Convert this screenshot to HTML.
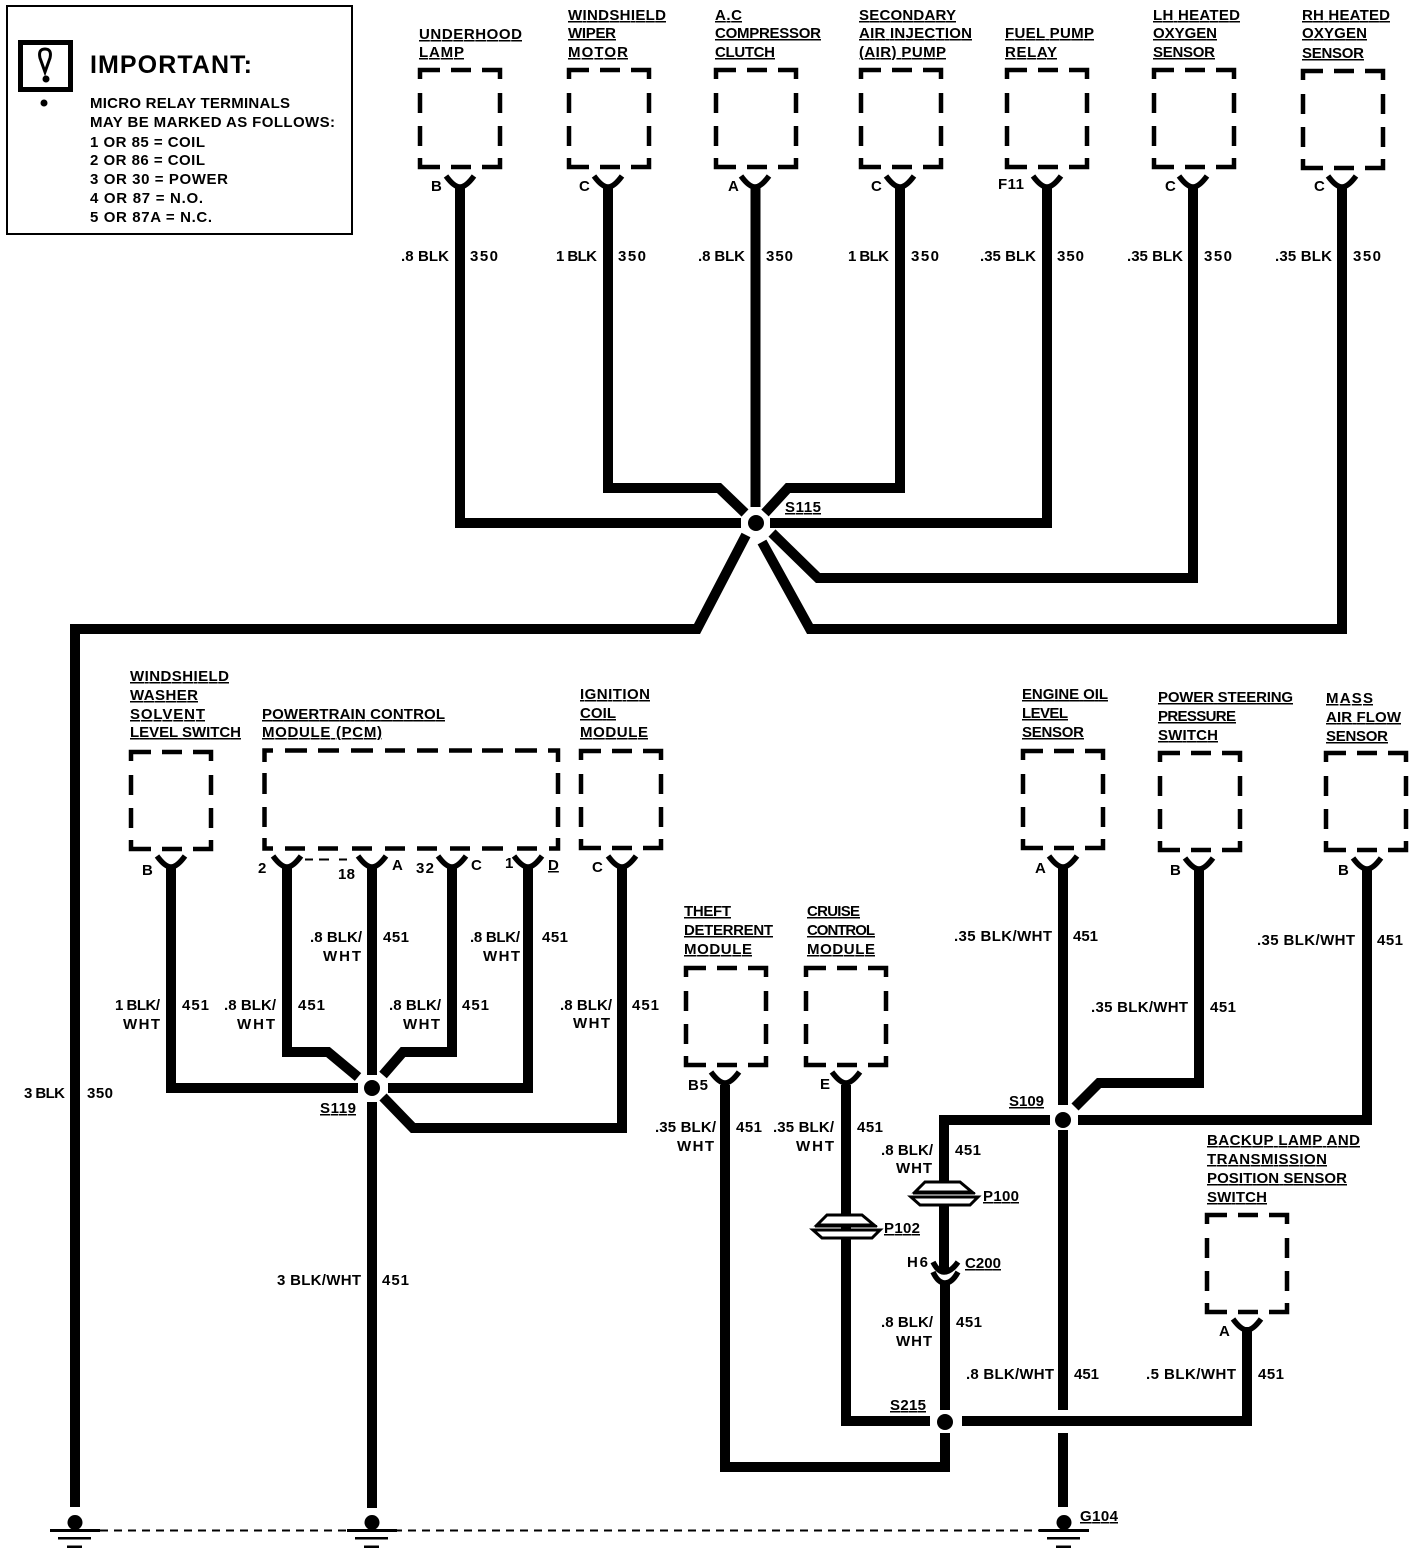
<!DOCTYPE html>
<html><head><meta charset="utf-8"><style>
html,body{margin:0;padding:0;background:#fff}
svg{display:block}
text{font-family:"Liberation Sans",sans-serif;font-weight:700;font-size:15px;fill:#000}
.u{text-decoration:underline}
.w{fill:none;stroke:#000;stroke-width:10;stroke-linejoin:miter}
.c{fill:none;stroke:#000;stroke-width:5.5}
.b{fill:none;stroke:#000;stroke-width:4.5}
</style></head><body>
<svg width="1424" height="1554" viewBox="0 0 1424 1554" xmlns="http://www.w3.org/2000/svg">
<defs>
<g id="box"><path class="b" d="M0 9V0H20M31 0H51M62 0H80V9M0 23V43M80 23V43M0 56V76M80 56V76M0 88V97H20M31 97H51M62 97H80V88"/></g>
<path id="pin" class="c" d="M-14 -7Q-6 4 0 4Q6 4 14 -7"/>
<g id="plug"><path d="M915 1192L925 1182H960L972 1192Z" fill="#fff" stroke="#000" stroke-width="3"/><rect x="913" y="1192" width="62" height="2.500"/><path d="M911 1197H978L970 1205H920Z" fill="#fff" stroke="#000" stroke-width="3"/></g>
<g id="gnd"><circle cx="0" cy="1522.500" r="7.500"/><rect x="-25" y="1529" width="50" height="3"/><rect x="-17" y="1537" width="33" height="2.500"/><rect x="-8" y="1545.500" width="15" height="2.500"/></g>
</defs>

<!-- important panel -->
<rect x="7" y="6" width="345" height="228" fill="none" stroke="#000" stroke-width="2"/>
<rect x="20.500" y="42.500" width="50" height="47" fill="none" stroke="#000" stroke-width="5"/>
<path d="M45 72L40 58Q38 49 45 49Q52 49 50 58Z" fill="none" stroke="#000" stroke-width="3"/>
<circle cx="46" cy="79" r="3.500"/><circle cx="44" cy="103" r="3.500"/>
<text x="90" y="73" style="font-size:25px" textLength="162">IMPORTANT:</text>
<text x="90" y="108" textLength="200">MICRO RELAY TERMINALS</text>
<text x="90" y="127" textLength="245">MAY BE MARKED AS FOLLOWS:</text>
<text x="90" y="147" textLength="115">1 OR 85 = COIL</text>
<text x="90" y="165" textLength="115">2 OR 86 = COIL</text>
<text x="90" y="184" textLength="138">3 OR 30 = POWER</text>
<text x="90" y="203" textLength="113">4 OR 87 = N.O.</text>
<text x="90" y="222" textLength="122">5 OR 87A = N.C.</text>

<!-- boxes -->
<use href="#box" x="420" y="70"/><use href="#box" x="569" y="70"/><use href="#box" x="716" y="70"/><use href="#box" x="861" y="70"/><use href="#box" x="1007" y="70"/><use href="#box" x="1154" y="70"/><use href="#box" x="1303" y="71"/>
<use href="#box" x="131" y="752"/><use href="#box" x="581" y="751"/><use href="#box" x="1023" y="751"/><use href="#box" x="1160" y="753"/><use href="#box" x="1326" y="753"/>
<use href="#box" x="686" y="968"/><use href="#box" x="806" y="968"/><use href="#box" x="1207" y="1215"/>
<path class="b" d="M264.500 762V750.500H273M285 750.500H307M318 750.500H339M351 750.500H373M385 750.500H405M417 750.500H438M449 750.500H472M482 750.500H503M515 750.500H537M548 750.500H558V762M264.500 773V794M558 773V794M264.500 807V827M558 807V827M264.500 838V848.500H273M285 848.500H305M318 848.500H338M352 848.500H372M385 848.500H405M417 848.500H437M450 848.500H470M482 848.500H503M517 848.500H537M549 848.500H558V838"/>
<path d="M305 859.500H313M319 859.500H329M339 859.500H347" stroke="#000" stroke-width="2" fill="none"/>

<!-- pins -->
<use href="#pin" x="460" y="183"/><use href="#pin" x="608" y="183"/><use href="#pin" x="755" y="183"/><use href="#pin" x="900" y="183"/><use href="#pin" x="1047" y="183"/><use href="#pin" x="1193" y="183"/><use href="#pin" x="1342" y="183"/>
<use href="#pin" x="171" y="863"/><use href="#pin" x="287" y="863"/><use href="#pin" x="372" y="863"/><use href="#pin" x="452" y="863"/><use href="#pin" x="528" y="863"/><use href="#pin" x="622" y="863"/>
<use href="#pin" x="1063" y="863"/><use href="#pin" x="1199" y="865"/><use href="#pin" x="1367" y="865"/>
<use href="#pin" x="725" y="1079"/><use href="#pin" x="846" y="1079"/><use href="#pin" x="1247" y="1326"/>

<!-- wires -->
<path class="w" d="M460 185V523H741"/>
<path class="w" d="M770 523H1047V185"/>
<path class="w" d="M608 185V488H719L745 513"/>
<path class="w" d="M755.500 185V507"/>
<path class="w" d="M900 185V488H788L765 513"/>
<path class="w" d="M1193 185V578H818L772 533"/>
<path class="w" d="M1342 185V629H810L762 542"/>
<path class="w" d="M75 1507V629H697L746 535"/>
<path class="w" d="M171 865V1088H358"/>
<path class="w" d="M287 865V1052H328L358 1077"/>
<path class="w" d="M372 865V1075"/>
<path class="w" d="M452 865V1052H403L383 1075"/>
<path class="w" d="M528 865V1088H388"/>
<path class="w" d="M622 865V1128H413L383 1097"/>
<path class="w" d="M372 1102V1508"/>
<path class="w" d="M1063 865V1105"/>
<path class="w" d="M1199 867V1083H1099L1075 1107"/>
<path class="w" d="M1367 867V1120H1078"/>
<path class="w" d="M1050 1120H944V1184"/>
<path class="w" d="M944 1205V1270"/>
<path class="w" d="M945 1282V1410"/>
<path class="w" d="M1063 1130V1410"/>
<path class="w" d="M1063 1433V1507"/>
<path class="w" d="M846 1085V1421H930"/>
<path class="w" d="M962 1421H1247V1327"/>
<path class="w" d="M725 1085V1467H945V1433"/>

<!-- splices -->
<circle cx="756" cy="523" r="8"/><circle cx="372" cy="1088" r="8"/><circle cx="1063" cy="1120" r="8"/><circle cx="945" cy="1422" r="8"/>

<!-- connectors -->
<use href="#plug"/><use href="#plug" transform="translate(-98 33)"/>
<path class="c" d="M933 1262Q938 1272 944 1272Q951 1272 958 1262"/>
<path class="c" d="M933 1272Q938 1283 945 1283Q952 1283 958 1272"/>

<!-- grounds -->
<use href="#gnd" x="75"/><use href="#gnd" x="372"/><use href="#gnd" x="1064"/>
<path d="M100 1530.500H1040" stroke="#000" stroke-width="2" stroke-dasharray="8 6" fill="none"/>

<!-- device labels -->
<text class="u" x="419" y="39" textLength="103">UNDERHOOD</text><text class="u" x="419" y="57" textLength="45">LAMP</text>
<text class="u" x="568" y="20" textLength="98">WINDSHIELD</text><text class="u" x="568" y="38" textLength="48">WIPER</text><text class="u" x="568" y="57" textLength="60">MOTOR</text>
<text class="u" x="715" y="20" textLength="27">A.C</text><text class="u" x="715" y="38" textLength="106">COMPRESSOR</text><text class="u" x="715" y="57" textLength="60">CLUTCH</text>
<text class="u" x="859" y="20" textLength="97">SECONDARY</text><text class="u" x="859" y="38" textLength="113">AIR INJECTION</text><text class="u" x="859" y="57" textLength="87">(AIR) PUMP</text>
<text class="u" x="1005" y="38" textLength="89">FUEL PUMP</text><text class="u" x="1005" y="57" textLength="52">RELAY</text>
<text class="u" x="1153" y="20" textLength="87">LH HEATED</text><text class="u" x="1153" y="38" textLength="64">OXYGEN</text><text class="u" x="1153" y="57" textLength="62">SENSOR</text>
<text class="u" x="1302" y="20" textLength="88">RH HEATED</text><text class="u" x="1302" y="38" textLength="65">OXYGEN</text><text class="u" x="1302" y="58" textLength="62">SENSOR</text>
<text class="u" x="130" y="681" textLength="99">WINDSHIELD</text><text class="u" x="130" y="700" textLength="68">WASHER</text><text class="u" x="130" y="719" textLength="75">SOLVENT</text><text class="u" x="130" y="737" textLength="111">LEVEL SWITCH</text>
<text class="u" x="262" y="719" textLength="183">POWERTRAIN CONTROL</text><text class="u" x="262" y="737" textLength="120">MODULE (PCM)</text>
<text class="u" x="580" y="699" textLength="70">IGNITION</text><text class="u" x="580" y="718" textLength="36">COIL</text><text class="u" x="580" y="737" textLength="68">MODULE</text>
<text class="u" x="1022" y="699" textLength="86">ENGINE OIL</text><text class="u" x="1022" y="718" textLength="46">LEVEL</text><text class="u" x="1022" y="737" textLength="62">SENSOR</text>
<text class="u" x="1158" y="702" textLength="135">POWER STEERING</text><text class="u" x="1158" y="721" textLength="78">PRESSURE</text><text class="u" x="1158" y="740" textLength="60">SWITCH</text>
<text class="u" x="1326" y="703" textLength="47">MASS</text><text class="u" x="1326" y="722" textLength="75">AIR FLOW</text><text class="u" x="1326" y="741" textLength="62">SENSOR</text>
<text class="u" x="684" y="916" textLength="47">THEFT</text><text class="u" x="684" y="935" textLength="89">DETERRENT</text><text class="u" x="684" y="954" textLength="68">MODULE</text>
<text class="u" x="807" y="916" textLength="53">CRUISE</text><text class="u" x="807" y="935" textLength="68">CONTROL</text><text class="u" x="807" y="954" textLength="68">MODULE</text>
<text class="u" x="1207" y="1145" textLength="153">BACKUP LAMP AND</text><text class="u" x="1207" y="1164" textLength="120">TRANSMISSION</text><text class="u" x="1207" y="1183" textLength="140">POSITION SENSOR</text><text class="u" x="1207" y="1202" textLength="60">SWITCH</text>
<text class="u" x="785" y="512" textLength="36">S115</text><text class="u" x="320" y="1113" textLength="36">S119</text><text class="u" x="1009" y="1106" textLength="35">S109</text><text class="u" x="890" y="1410" textLength="36">S215</text>
<text class="u" x="983" y="1201" textLength="36">P100</text><text class="u" x="884" y="1233" textLength="36">P102</text><text class="u" x="965" y="1268" textLength="36">C200</text><text class="u" x="1080" y="1521" textLength="38">G104</text>
<text class="u" x="548" y="870">D</text>

<!-- pin labels -->
<text x="431" y="191">B</text><text x="579" y="191">C</text><text x="728" y="191">A</text><text x="871" y="191">C</text><text x="998" y="189" textLength="26">F11</text><text x="1165" y="191">C</text><text x="1314" y="191">C</text>
<text x="142" y="875">B</text><text x="258" y="873">2</text><text x="338" y="879" textLength="17">18</text><text x="392" y="870">A</text><text x="416" y="873" textLength="18">32</text><text x="471" y="870">C</text><text x="505" y="868">1</text><text x="592" y="872">C</text><text x="1035" y="873">A</text><text x="1170" y="875">B</text><text x="1338" y="875">B</text>
<text x="688" y="1090" textLength="20">B5</text><text x="820" y="1089">E</text><text x="1219" y="1336">A</text><text x="907" y="1267" textLength="21">H6</text>

<!-- wire labels -->
<text x="401" y="261" textLength="48">.8 BLK</text><text x="470" y="261" textLength="28">350</text>
<text x="556" y="261" textLength="41">1 BLK</text><text x="618" y="261" textLength="28">350</text>
<text x="698" y="261" textLength="47">.8 BLK</text><text x="766" y="261" textLength="27">350</text>
<text x="848" y="261" textLength="41">1 BLK</text><text x="911" y="261" textLength="28">350</text>
<text x="980" y="261" textLength="56">.35 BLK</text><text x="1057" y="261" textLength="27">350</text>
<text x="1127" y="261" textLength="56">.35 BLK</text><text x="1204" y="261" textLength="28">350</text>
<text x="1275" y="261" textLength="57">.35 BLK</text><text x="1353" y="261" textLength="28">350</text>
<text x="115" y="1010" textLength="45">1 BLK/</text><text x="123" y="1029" textLength="37">WHT</text><text x="182" y="1010" textLength="27">451</text>
<text x="224" y="1010" textLength="52">.8 BLK/</text><text x="237" y="1029" textLength="38">WHT</text><text x="298" y="1010" textLength="27">451</text>
<text x="310" y="942" textLength="52">.8 BLK/</text><text x="323" y="961" textLength="38">WHT</text><text x="383" y="942" textLength="26">451</text>
<text x="389" y="1010" textLength="52">.8 BLK/</text><text x="403" y="1029" textLength="37">WHT</text><text x="462" y="1010" textLength="27">451</text>
<text x="470" y="942" textLength="50">.8 BLK/</text><text x="483" y="961" textLength="37">WHT</text><text x="542" y="942" textLength="26">451</text>
<text x="560" y="1010" textLength="52">.8 BLK/</text><text x="573" y="1028" textLength="37">WHT</text><text x="632" y="1010" textLength="27">451</text>
<text x="24" y="1098" textLength="41">3 BLK</text><text x="87" y="1098" textLength="26">350</text>
<text x="277" y="1285" textLength="84">3 BLK/WHT</text><text x="382" y="1285" textLength="27">451</text>
<text x="954" y="941" textLength="98">.35 BLK/WHT</text><text x="1073" y="941" textLength="25">451</text>
<text x="1091" y="1012" textLength="97">.35 BLK/WHT</text><text x="1210" y="1012" textLength="26">451</text>
<text x="1257" y="945" textLength="98">.35 BLK/WHT</text><text x="1377" y="945" textLength="26">451</text>
<text x="655" y="1132" textLength="61">.35 BLK/</text><text x="677" y="1151" textLength="37">WHT</text><text x="736" y="1132" textLength="26">451</text>
<text x="773" y="1132" textLength="61">.35 BLK/</text><text x="796" y="1151" textLength="38">WHT</text><text x="857" y="1132" textLength="26">451</text>
<text x="881" y="1155" textLength="52">.8 BLK/</text><text x="896" y="1173" textLength="36">WHT</text><text x="955" y="1155" textLength="26">451</text>
<text x="881" y="1327" textLength="52">.8 BLK/</text><text x="896" y="1346" textLength="36">WHT</text><text x="956" y="1327" textLength="26">451</text>
<text x="966" y="1379" textLength="88">.8 BLK/WHT</text><text x="1074" y="1379" textLength="25">451</text>
<text x="1146" y="1379" textLength="90">.5 BLK/WHT</text><text x="1258" y="1379" textLength="26">451</text>
</svg>
</body></html>
